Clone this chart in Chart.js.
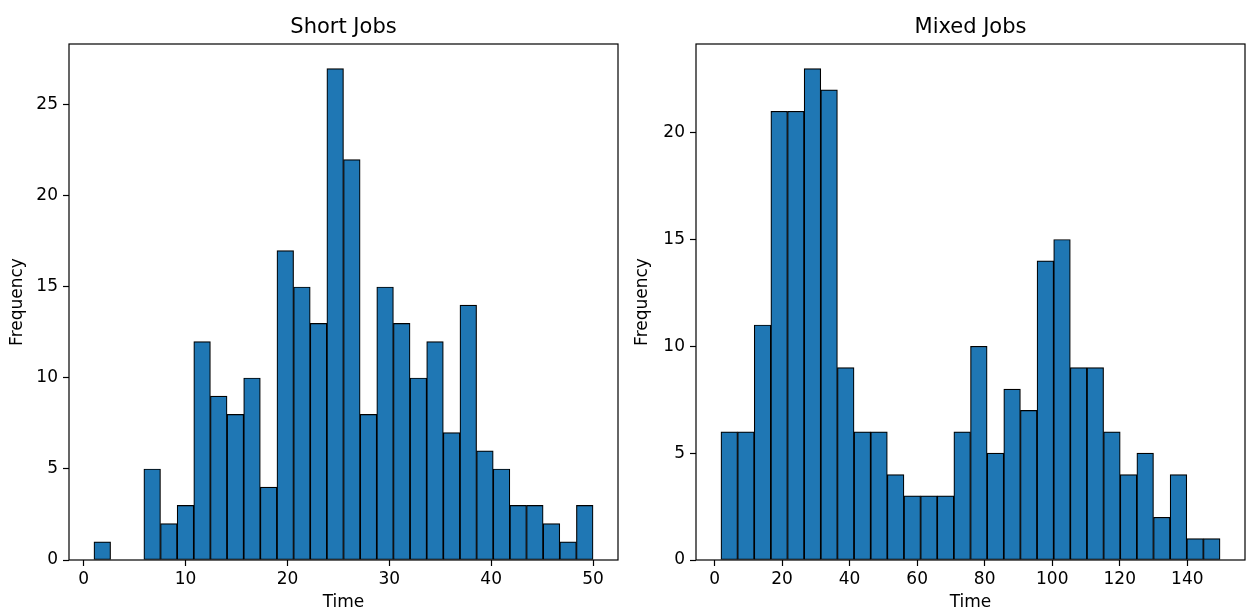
<!DOCTYPE html>
<html>
<head>
<meta charset="utf-8">
<script src="https://cdn.jsdelivr.net/npm/chart.js@4.4.1/dist/chart.umd.min.js"></script>
<style>
  html, body { margin: 0; padding: 0; background: #fff; }
  #wrap { position: relative; width: 1251px; height: 612px; overflow: hidden; }
  .panel { position: absolute; top: 0; height: 612px; }
</style>
</head>
<body>
<div id="wrap">
  <div class="panel" style="left:0;width:625px"><canvas id="short" width="625" height="612"></canvas></div>
  <div class="panel" style="left:625px;width:626px"><canvas id="mixed" width="626" height="612"></canvas></div>
</div>
<script>
// histogram counts, 30 equal bins each
const shortCounts = [1, 0, 0, 5, 2, 3, 12, 9, 8, 10, 4, 17, 15, 13, 27, 22, 8, 15, 13, 10, 12, 7, 14, 6, 5, 3, 3, 2, 1, 3];
const shortRange = [1.0, 50.0];
const shortXTicks = [0, 10, 20, 30, 40, 50];
const shortYTicks = [0, 5, 10, 15, 20, 25];

const mixedCounts = [6, 6, 11, 21, 21, 23, 22, 9, 6, 6, 4, 3, 3, 3, 6, 10, 5, 8, 7, 14, 15, 9, 9, 6, 4, 5, 2, 4, 1, 1];
const mixedRange = [1.9, 149.7];
const mixedXTicks = [0, 20, 40, 60, 80, 100, 120, 140];
const mixedYTicks = [0, 5, 10, 15, 20];

const FONT = "'DejaVu Sans', sans-serif";

// black box round the plot area, like matplotlib spines
const frame = {
  id: 'frame',
  afterDatasetsDraw(chart) {
    const a = chart.chartArea, ctx = chart.ctx;
    ctx.save();
    ctx.strokeStyle = '#000';
    ctx.lineWidth = 1.2;
    ctx.strokeRect(a.left, a.top, a.right - a.left, a.bottom - a.top);
    ctx.restore();
  }
};

function makeHist(id, title, counts, range, xTicks, yTicks, yWidth, rightPad) {
  const lo = range[0], hi = range[1];
  const w = (hi - lo) / counts.length;
  const pts = counts.map((c, i) => ({x: lo + (i + 0.5) * w, y: c}));
  const pad = (hi - lo) * 0.05;
  const ymax = Math.max(...counts) * 1.05;

  const tickStyle = {
    display: true, drawOnChartArea: false, drawTicks: true, offset: false,
    tickLength: 6, tickColor: '#000', tickWidth: 1.2
  };

  return new Chart(document.getElementById(id), {
    type: 'bar',
    data: {
      datasets: [{
        data: pts,
        backgroundColor: '#1f77b4',
        borderColor: '#000',
        borderWidth: 1.2,
        borderSkipped: false,
        barPercentage: 1,
        categoryPercentage: 1
      }]
    },
    options: {
      responsive: false,
      devicePixelRatio: 1,
      animation: false,
      layout: {padding: {left: 0, right: rightPad, top: 0, bottom: 0}},
      plugins: {
        legend: {display: false},
        tooltip: {enabled: false},
        title: {
          display: true, text: title, color: '#000', fullSize: false,
          font: {family: FONT, size: 21, weight: 'normal', lineHeight: 1},
          padding: {top: 17, bottom: 6}
        }
      },
      scales: {
        x: {
          type: 'linear', offset: false,
          min: lo - pad, max: hi + pad,
          afterBuildTicks: s => { s.ticks = xTicks.map(v => ({value: v})); },
          afterFit: s => { s.height = 52; },
          grid: tickStyle,
          border: {display: false},
          ticks: {color: '#000', padding: 5, maxRotation: 0, font: {family: FONT, size: 17, lineHeight: 1}},
          title: {display: true, text: 'Time', color: '#000', padding: {top: 0, bottom: 1},
                  font: {family: FONT, size: 17, lineHeight: 1}}
        },
        y: {
          min: 0, max: ymax,
          afterBuildTicks: s => { s.ticks = yTicks.map(v => ({value: v})); },
          afterFit: s => { s.width = yWidth; },
          grid: tickStyle,
          border: {display: false},
          ticks: {color: '#000', padding: 5, font: {family: FONT, size: 17, lineHeight: 1}},
          title: {display: true, text: 'Frequency', color: '#000', padding: {top: 9, bottom: 0},
                  font: {family: FONT, size: 17, lineHeight: 1}}
        }
      }
    },
    plugins: [frame]
  });
}

makeHist('short', 'Short Jobs', shortCounts, shortRange, shortXTicks, shortYTicks, 69, 7);
makeHist('mixed', 'Mixed Jobs', mixedCounts, mixedRange, mixedXTicks, mixedYTicks, 71, 6);
</script>
</body>
</html>
